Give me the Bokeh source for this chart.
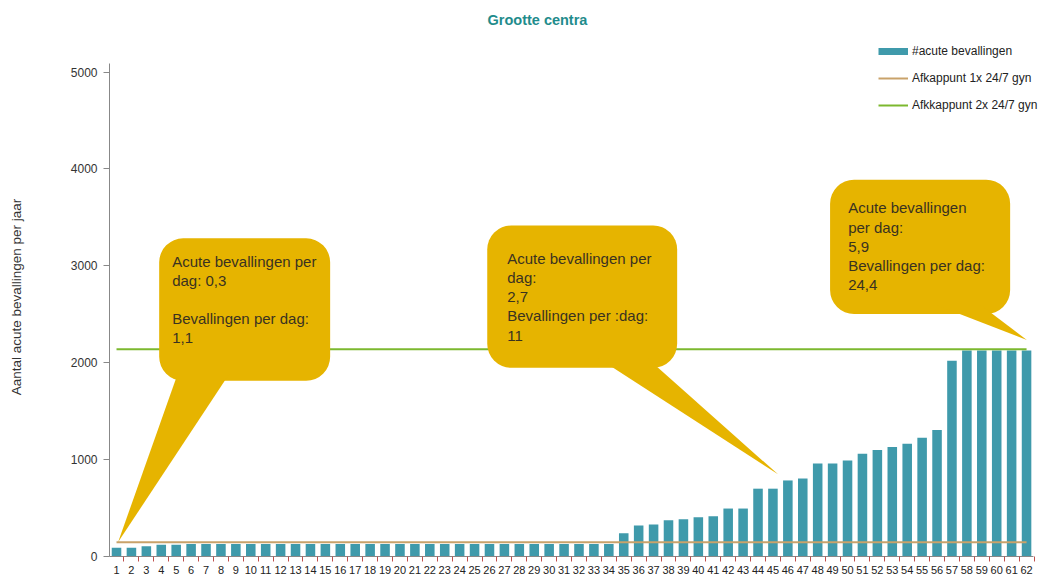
from bokeh.plotting import figure
from bokeh.models import (Range1d, FixedTicker, Legend, LegendItem, BoxAnnotation,
                          PolyAnnotation, Label)
from bokeh.embed import file_html
from bokeh.resources import INLINE

# ---------------- data ----------------
centres = list(range(1, 63))
acute_per_year = [90, 90, 105, 120, 120, 130, 130, 130, 130, 130,
                  130, 130, 130, 130, 130, 130, 130, 130, 130, 130,
                  130, 130, 130, 130, 130, 130, 130, 130, 130, 130,
                  130, 130, 130, 130, 240, 320, 330, 375, 385, 405,
                  415, 495, 495, 700, 700, 785, 805, 960, 960, 990,
                  1060, 1100, 1130, 1165, 1225, 1305, 2020, 2125, 2125, 2125,
                  2125, 2125]
cutoff_1x = 147
cutoff_2x = 2140
y_ticks = [0, 1000, 2000, 3000, 4000, 5000]
series_names = ["#acute bevallingen", "Afkappunt 1x 24/7 gyn", "Afkkappunt 2x 24/7 gyn"]
title_text = "Grootte centra"
y_label = "Aantal acute bevallingen per jaar"
callout_texts = [
    "Acute bevallingen per\ndag: 0,3\n\nBevallingen per dag:\n1,1",
    "Acute bevallingen per\ndag:\n2,7\nBevallingen per :dag:\n11",
    "Acute bevallingen\nper dag:\n5,9\nBevallingen per dag:\n24,4",
]

# ---------------- style ----------------
BAR = "#3f9aab"
ORANGE = "#c9a26a"
GREEN = "#7cb82f"
GOLD = "#e6b400"
FONT = "Liberation Sans"

p = figure(width=1045, height=576, output_backend="svg", toolbar_location=None,
           x_range=Range1d(0.53, 63.27), y_range=Range1d(0, 5357),
           min_border_left=109, min_border_right=0, min_border_top=36,
           min_border_bottom=19)
p.outline_line_color = None
p.grid.grid_line_color = None
p.background_fill_color = "white"
p.border_fill_color = "white"

# title
p.title.text = title_text
p.title.text_color = "#1f8c8c"
p.title.text_font = FONT
p.title.text_font_size = "14.5px"
p.title.text_font_style = "bold"
p.title.align = "left"
p.title.offset = 378
p.title.standoff = 19

# axes
xa = p.xaxis[0]
xa.bounds = (0.53, 62.47)
xa.ticker = FixedTicker(ticks=centres, minor_ticks=[c - 0.5 for c in centres] + [centres[-1] + 0.5])
xa.major_tick_line_color = None
xa.major_tick_out = 0
xa.major_tick_in = 0
xa.minor_tick_line_color = "#c0504d"
xa.minor_tick_out = 5
xa.minor_tick_in = 0
xa.axis_line_color = "#888888"
xa.major_label_text_font = FONT
xa.major_label_text_font_size = "11px"
xa.major_label_text_color = "#222222"
xa.major_label_standoff = 4

ya = p.yaxis[0]
ya.ticker = FixedTicker(ticks=y_ticks)
ya.bounds = (0, 5090)
ya.minor_tick_line_color = None
ya.major_tick_out = 6
ya.major_tick_in = 0
ya.axis_line_color = "#888888"
ya.major_tick_line_color = "#888888"
ya.major_label_text_font = FONT
ya.major_label_text_font_size = "12px"
ya.major_label_text_color = "#333333"
ya.major_label_standoff = 6
ya.axis_label = y_label
ya.axis_label_text_font = FONT
ya.axis_label_text_font_size = "13.5px"
ya.axis_label_text_font_style = "normal"
ya.axis_label_text_color = "#333333"
ya.axis_label_standoff = 44

# bars and cut-off lines
bars = p.vbar(x=centres, top=acute_per_year, width=0.64, fill_color=BAR, line_color=None)
l1 = p.line(x=[centres[0], centres[-1]], y=[cutoff_1x, cutoff_1x], line_color=ORANGE, line_width=2)
l2 = p.line(x=[centres[0], centres[-1]], y=[cutoff_2x, cutoff_2x], line_color=GREEN, line_width=2)
bar_proxy = p.line(x=[float("nan")], y=[float("nan")], line_color=BAR, line_width=7)

# callouts (boxes in data space)
callouts = [
    dict(box=(3.86, 15.32, 1814, 3284), tail=([5.13, 8.62, 1.11], [1900, 1900, 149]), text=(4.73, 3130)),
    dict(box=(25.85, 38.58, 1948, 3417), tail=([33.28, 36.57, 45.34], [2050, 2050, 848]), text=(27.19, 3160)),
    dict(box=(48.83, 60.90, 2503, 3890), tail=([55.87, 58.88, 62.02], [2600, 2600, 2235]), text=(50.04, 3685)),
]
for c in callouts:
    l, r, b, t = c["box"]
    p.add_layout(BoxAnnotation(left=l, right=r, bottom=b, top=t, fill_color=GOLD, fill_alpha=1.0,
                               line_color=None, border_radius=24))
    xs, ys = c["tail"]
    p.add_layout(PolyAnnotation(xs=xs, ys=ys, fill_color=GOLD, fill_alpha=1.0, line_color=None))
for c, txt in zip(callouts, callout_texts):
    tx, ty = c["text"]
    p.add_layout(Label(x=tx, y=ty, text=txt, text_font=FONT, text_font_size="15px",
                       text_color="#3a3220", text_baseline="top", text_align="left",
                       text_line_height=1.12))

# legend
legend = Legend(items=[LegendItem(label=series_names[0], renderers=[bar_proxy]),
                       LegendItem(label=series_names[1], renderers=[l1]),
                       LegendItem(label=series_names[2], renderers=[l2])],
                location=(769, 444), orientation="vertical",
                padding=0, margin=0, spacing=13, label_height=14, glyph_height=14,
                glyph_width=30, label_standoff=4,
                label_text_font=FONT, label_text_font_size="12px", label_text_color="#222222",
                background_fill_alpha=0, border_line_color=None)
p.add_layout(legend)

open("out.html", "w").write(file_html(p, INLINE))
